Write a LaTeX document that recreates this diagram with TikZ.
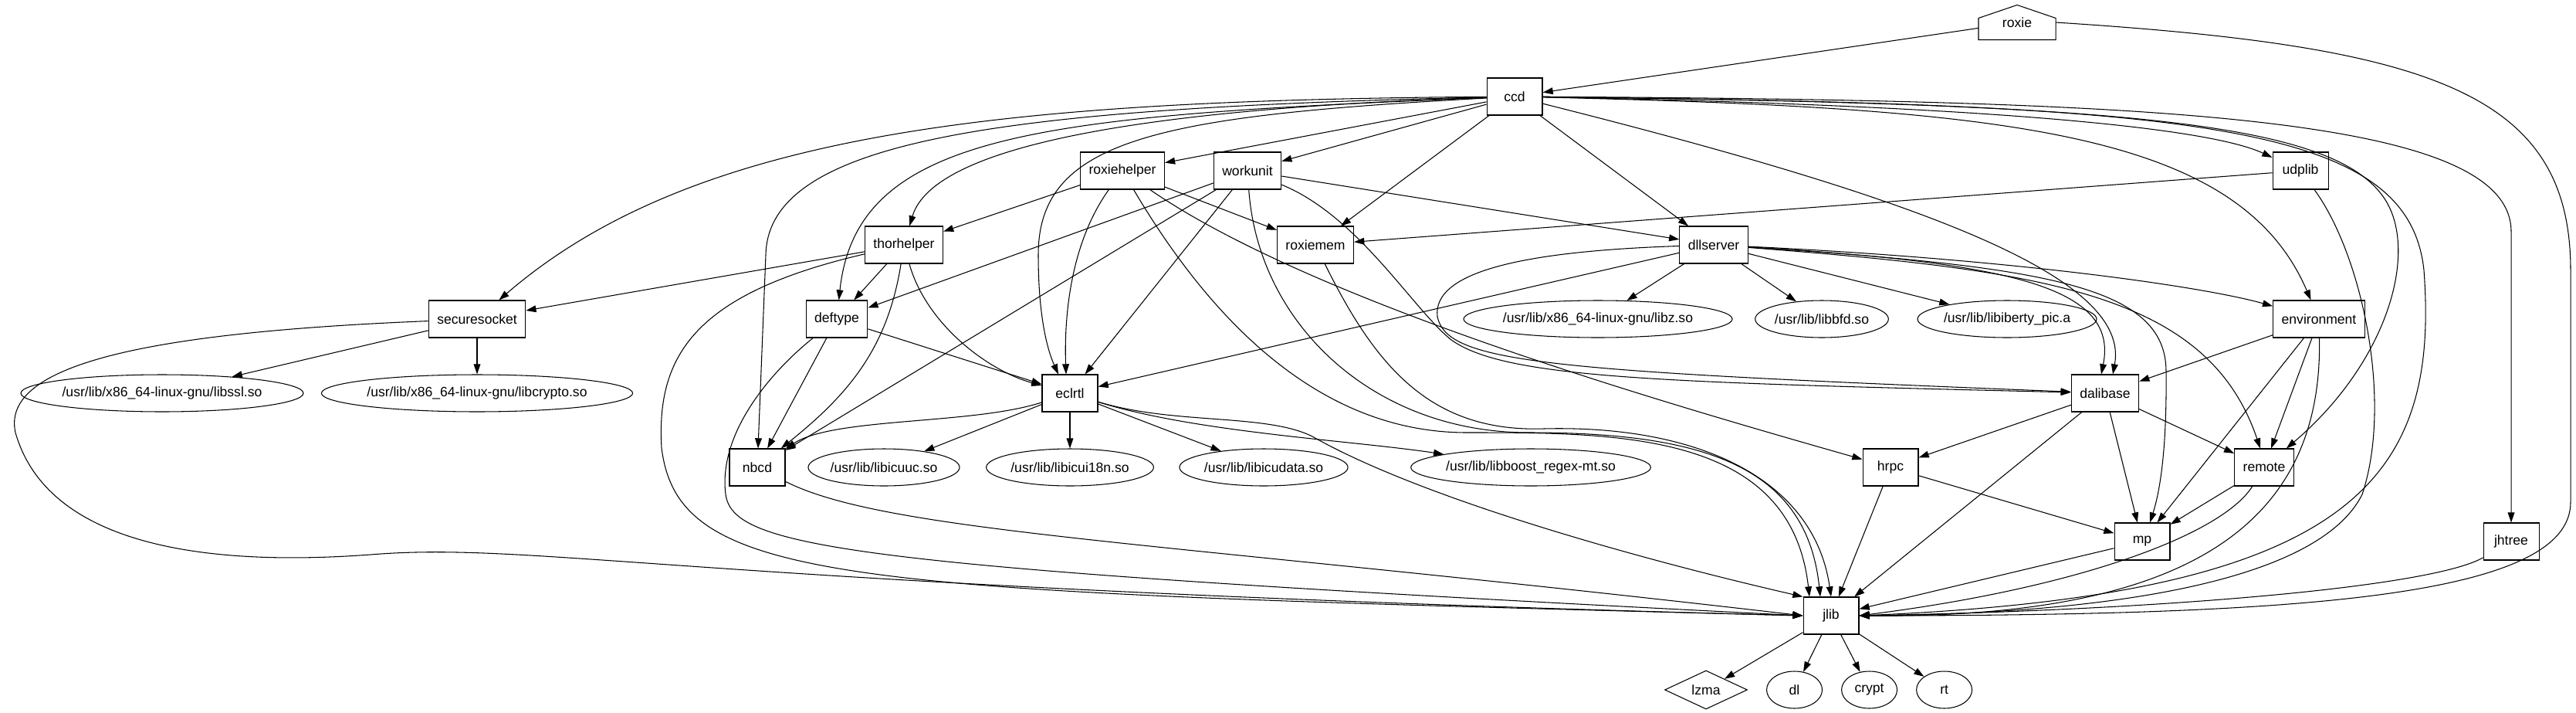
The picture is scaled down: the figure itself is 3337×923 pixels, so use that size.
\documentclass[tikz,border=0pt]{standalone}
\usepackage{fontspec}
\setmainfont{Liberation Sans}
\usetikzlibrary{positioning, arrows.meta, shapes.geometric}

\begin{document}
\begin{tikzpicture}[
  x=0.02cm, y=-0.02cm,
  node distance=0.48cm,
  font=\fontsize{10}{12}\selectfont,
  line width=0.6pt,
  pkg/.style={rectangle, draw, minimum width=1.44cm, minimum height=0.96cm, inner xsep=0.22cm},
  lib/.style={ellipse, draw, minimum width=1.44cm, minimum height=0.96cm, inner xsep=0pt},
  ->, >={Stealth[length=7.5pt, width=5pt, inset=0pt]}   % graphviz style filled heads
]
  \useasboundingbox (0,0) rectangle (3337,923);

  % --- nodes: one row per rank ---
  \node (roxie) [minimum width=1.98cm, minimum height=0.88cm] at (2613,29) {roxie};
  \draw[-] (roxie.south west) -- ([yshift=-0.34cm]roxie.north west) -- (roxie.north)
    -- ([yshift=-0.34cm]roxie.north east) -- (roxie.south east) -- cycle;

  \node (ccd) [pkg] at (1962,125) {ccd};

  \node (roxiehelper) [pkg] at (1454,221) {roxiehelper};
  \node (workunit) [pkg] at (1616,221) {workunit};
  \node (udplib) [pkg] at (2980,221) {udplib};

  \node (thorhelper) [pkg] at (1171,317) {thorhelper};
  \node (roxiemem) [pkg] at (1704,317) {roxiemem};
  \node (dllserver) [pkg] at (2220,317) {dllserver};

  \node (securesocket) [pkg] at (618,413) {securesocket};
  \node (deftype) [pkg] at (1084,413) {deftype};
  \node (libz) [lib] at (2070,413) {/usr/lib/x86\_64-linux-gnu/libz.so};
  \node (libbfd) [lib] at (2360,413) {/usr/lib/libbfd.so};
  \node (libiberty) [lib] at (2600,413) {/usr/lib/libiberty\_pic.a};
  \node (environment) [pkg] at (3004,413) {environment};

  \node (libssl) [lib] at (210,509) {/usr/lib/x86\_64-linux-gnu/libssl.so};
  \node (libcrypto) [lib] at (618,509) {/usr/lib/x86\_64-linux-gnu/libcrypto.so};
  \node (eclrtl) [pkg] at (1386,509) {eclrtl};
  \node (dalibase) [pkg] at (2727,509) {dalibase};

  \node (nbcd) [pkg] at (981,605) {nbcd};
  \node (libicuuc) [lib] at (1145,605) {/usr/lib/libicuuc.so};
  \node (libicui18n) [lib] at (1386,605) {/usr/lib/libicui18n.so};
  \node (libicudata) [lib] at (1637,605) {/usr/lib/libicudata.so};
  \node (libboost) [lib] at (1983,605) {/usr/lib/libboost\_regex-mt.so};
  \node (hrpc) [pkg] at (2449,605) {hrpc};
  \node (remote) [pkg] at (2933,605) {remote};

  \node (mp) [pkg] at (2775,701) {mp};
  \node (jhtree) [pkg] at (3253,701) {jhtree};

  \node (jlib) [pkg] at (2372,797) {jlib};

  \node (lzma) [diamond, draw, minimum width=2.14cm, minimum height=0.96cm, inner sep=0pt] at (2210,893) {lzma};
  \node (dl) [lib, right=of lzma] {dl};
  \node (crypt) [lib, right=of dl] {crypt};
  \node (rt) [lib, right=of crypt] {rt};

  % --- edges from roxie and ccd ---
  \draw (roxie) -- (ccd);
  \draw (roxie.east) .. controls (3150,60) and (3330,120) .. (3330,350) -- (3330,650)
    .. controls (3330,770) and (3000,797) .. (jlib.east);

  \draw (ccd) -- (roxiehelper);
  \draw (ccd) -- (workunit);
  \draw (ccd) -- (roxiemem);
  \draw (ccd) -- (dllserver);
  \draw (ccd) .. controls (2500,135) and (2850,160) .. (udplib);
  \draw (ccd) .. controls (1500,140) and (1210,185) .. (thorhelper);
  \draw (ccd) .. controls (1300,130) and (900,170) .. (securesocket);
  \draw (ccd) .. controls (1350,150) and (1110,170) .. (deftype);
  \draw (ccd) .. controls (1500,150) and (1345,180) .. (1345,330)
    .. controls (1345,420) and (1360,460) .. ([xshift=-0.3cm]eclrtl.north);
  \draw (ccd) .. controls (1300,140) and (995,180) .. (992,330) -- (nbcd);
  \draw (ccd) .. controls (2500,260) and (2760,360) .. ([xshift=0.2cm]dalibase.north);
  \draw (ccd) .. controls (2600,140) and (2900,170) .. (environment);
  \draw (ccd) .. controls (2800,135) and (3060,160) .. (3100,280)
    .. controls (3125,355) and (3080,480) .. (remote);
  \draw (ccd) .. controls (2800,130) and (3253,150) .. (3253,300) -- (jhtree);
  \draw (ccd) .. controls (2850,135) and (3120,160) .. (3140,350)
    .. controls (3160,620) and (3050,770) .. (jlib.east);

  % --- roxiehelper, workunit, udplib ---
  \draw (roxiehelper) -- (thorhelper);
  \draw (roxiehelper) -- (roxiemem);
  \draw (roxiehelper) .. controls (1390,310) and (1378,400) .. ([xshift=-0.1cm]eclrtl.north);
  \draw (roxiehelper) .. controls (1700,390) and (2150,520) .. (hrpc);
  \draw (roxiehelper) .. controls (1560,400) and (1700,560) .. (1900,560)
    .. controls (2100,560) and (2320,560) .. ([xshift=-0.56cm]jlib.north);

  \draw (workunit) -- (deftype);
  \draw (workunit) -- (nbcd);
  \draw (workunit) -- (eclrtl);
  \draw (workunit) -- (dllserver);
  \draw (workunit) .. controls (1630,420) and (1780,560) .. (1980,560)
    .. controls (2200,560) and (2340,600) .. ([xshift=-0.28cm]jlib.north);
  \draw (workunit) .. controls (1760,280) and (1830,400) .. (1880,440)
    .. controls (1950,490) and (2150,495) .. (dalibase);

  \draw (udplib) -- (roxiemem);
  \draw (udplib) .. controls (3060,330) and (3100,520) .. (3060,640)
    .. controls (3000,760) and (2700,795) .. (jlib.east);

  % --- thorhelper, roxiemem, dllserver ---
  \draw (thorhelper) -- (securesocket);
  \draw (thorhelper) -- (deftype);
  \draw (thorhelper) .. controls (1200,420) and (1280,480) .. (eclrtl);
  \draw (thorhelper) .. controls (1150,450) and (1100,510) .. (nbcd);
  \draw (thorhelper) .. controls (900,380) and (850,460) .. (857,580)
    .. controls (880,760) and (1100,765) .. (jlib.west);

  \draw (roxiemem) .. controls (1780,470) and (1850,560) .. (2000,555)
    .. controls (2200,550) and (2350,620) .. (jlib.north);

  \draw (dllserver) -- (libz);
  \draw (dllserver) -- (libbfd);
  \draw (dllserver) -- (libiberty);
  \draw (dllserver) -- (eclrtl);
  \draw (dllserver) .. controls (2600,335) and (2850,370) .. (environment);
  \draw (dllserver) .. controls (2600,340) and (2745,370) .. ([xshift=-0.1cm]dalibase.north);
  \draw (dllserver) .. controls (2650,350) and (2860,380) .. ([xshift=-0.1cm]remote.north);
  \draw (dllserver) .. controls (2650,345) and (2805,370) .. (2806,480)
    .. controls (2807,570) and (2800,630) .. ([xshift=0.2cm]mp.north);
  \draw (dllserver) .. controls (1980,325) and (1855,350) .. (1862,410)
    .. controls (1875,470) and (2000,480) .. (dalibase);

  % --- securesocket, deftype, nbcd ---
  \draw (securesocket) -- (libssl);
  \draw (securesocket) -- (libcrypto);
  \draw (securesocket) .. controls (200,430) and (0,470) .. (20,560)
    .. controls (60,700) and (250,735) .. (480,718)
    .. controls (700,700) and (900,760) .. (jlib.west);

  \draw (deftype) -- (eclrtl);
  \draw (deftype) -- (nbcd);
  \draw (deftype) .. controls (1000,480) and (930,560) .. (940,640)
    .. controls (950,710) and (1100,735) .. (jlib.west);

  \draw (nbcd) .. controls (1150,690) and (1500,700) .. (jlib.west);

  % --- eclrtl ---
  \draw (eclrtl) .. controls (1260,550) and (1080,540) .. (nbcd);
  \draw (eclrtl) -- (libicuuc);
  \draw (eclrtl) -- (libicui18n);
  \draw (eclrtl) -- (libicudata);
  \draw (eclrtl) .. controls (1550,560) and (1750,570) .. (libboost);
  \draw (eclrtl) .. controls (1520,550) and (1640,535) .. (1700,565)
    .. controls (1850,650) and (2150,730) .. (jlib.north west);

  % --- environment, dalibase, lower ranks ---
  \draw (environment) -- (dalibase);
  \draw (environment) -- (remote);
  \draw (environment) -- (mp);
  \draw (environment) .. controls (3010,700) and (2800,800) .. (jlib.east);

  \draw (dalibase) -- (hrpc);
  \draw (dalibase) -- (remote);
  \draw (dalibase) -- (mp);
  \draw (dalibase) -- (jlib);

  \draw (hrpc) -- (mp);
  \draw (hrpc) -- (jlib);
  \draw (remote) -- (mp);
  \draw (remote) .. controls (2880,690) and (2700,760) .. (jlib.east);
  \draw (mp) -- (jlib);
  \draw (jhtree) .. controls (3150,760) and (2800,790) .. (jlib.east);

  \draw (jlib) -- (lzma);
  \draw (jlib) -- (dl);
  \draw (jlib) -- (crypt);
  \draw (jlib) -- (rt);
\end{tikzpicture}
\end{document}
